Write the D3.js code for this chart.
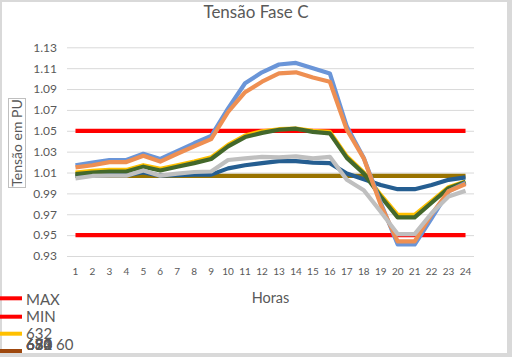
<!DOCTYPE html>
<html><head><meta charset="utf-8">
<script src="https://cdn.jsdelivr.net/npm/d3@7"></script>
<style>body{margin:0;background:#fff;}svg{display:block;font-family:Lato,"Open Sans",sans-serif;}</style>
</head><body><svg id="c" width="512" height="357"></svg>
<script>
const hours = d3.range(1, 25).map(String);
const yTicks = [0.93,0.95,0.97,0.99,1.01,1.03,1.05,1.07,1.09,1.11,1.13];
const maxLimit = hours.map(() => 1.05);
const minLimit = hours.map(() => 0.95);
const s632 = [1.0100,1.0115,1.0125,1.0125,1.0170,1.0135,1.0170,1.0205,1.0245,1.0365,1.0455,1.0495,1.0515,1.0520,1.0500,1.0490,1.0255,1.0100,0.9885,0.9695,0.9695,0.9825,0.9960,1.0015];
const s633 = [1.0170,1.0195,1.0220,1.0220,1.0280,1.0230,1.0305,1.0380,1.0450,1.0715,1.0955,1.1060,1.1135,1.1150,1.1100,1.1050,1.0540,1.0240,0.9810,0.9410,0.9410,0.9660,0.9920,1.0000];
const s634 = [1.0150,1.0170,1.0200,1.0200,1.0260,1.0205,1.0280,1.0350,1.0420,1.0680,1.0870,1.0970,1.1050,1.1060,1.1010,1.0970,1.0510,1.0236,0.9790,0.9440,0.9440,0.9700,0.9920,0.9990];
const s671 = [1.0044,1.0067,1.0070,1.0070,1.0120,1.0070,1.0090,1.0105,1.0110,1.0220,1.0235,1.0250,1.0245,1.0255,1.0235,1.0250,1.0030,0.9930,0.9725,0.9510,0.9510,0.9710,0.9870,0.9926];
const s680 = [1.0086,1.0100,1.0110,1.0110,1.0156,1.0120,1.0156,1.0190,1.0230,1.0350,1.0440,1.0480,1.0510,1.0520,1.0490,1.0475,1.0240,1.0090,0.9870,0.9670,0.9670,0.9810,0.9950,1.0010];
const s692 = [1.0070,1.0070,1.0075,1.0075,1.0100,1.0070,1.0075,1.0080,1.0080,1.0140,1.0170,1.0190,1.0210,1.0210,1.0195,1.0190,1.0090,1.0035,0.9980,0.9940,0.9940,0.9980,1.0030,1.0054];
const s650 = hours.map(() => 1.0067);

const series = [
  {name:"MAX", values:maxLimit, color:"#FF0000"},
  {name:"MIN", values:minLimit, color:"#FF0000"},
  {name:"632", values:s632, color:"#FFC000"},
  {name:"650 60", values:s650, color:"#997300"},
  {name:"692", values:s692, color:"#255E91"},
  {name:"680", values:s680, color:"#43682B"},
  {name:"633", values:s633, color:"#6A95D8"},
  {name:"634", values:s634, color:"#EE8F52"},
  {name:"671", values:s671, color:"#BFBFBF"}
];

const svg = d3.select("#c");
svg.append("rect").attr("width",512).attr("height",357).attr("fill","#d9d9d9");
svg.append("rect").attr("x",2).attr("y",2).attr("width",505).attr("height",351).attr("fill","#fff");

const L = 67, R = 474, T = 47.3, B = 256;
const x = d3.scaleBand().domain(hours).range([L, R]);
const y = d3.scaleLinear().domain([0.93, 1.13]).range([B, T]);

// title
svg.append("text").attr("x",256).attr("y",18).attr("text-anchor","middle")
  .attr("font-size",17).attr("fill","#595959").text("Tensão Fase C");

// grid
const yAxis = d3.axisLeft(y).tickValues(yTicks).tickFormat(d3.format(".2f")).tickSize(-(R-L)).tickPadding(10);
const gy = svg.append("g").attr("transform",`translate(${L},0)`).call(yAxis);
gy.select(".domain").remove();
gy.selectAll(".tick line").attr("stroke","#D9D9D9").attr("stroke-width",1);
gy.selectAll(".tick text").attr("fill","#595959").attr("font-size",12).attr("font-family","Lato");

const xAxis = d3.axisBottom(x).tickSize(0).tickPadding(12);
const gx = svg.append("g").attr("transform",`translate(0,${B})`).call(xAxis);
gx.select(".domain").remove();
gx.selectAll(".tick text").attr("fill","#595959").attr("font-size",10).attr("font-family","Lato");

// axis titles
svg.append("text").attr("x",270.5).attr("y",303).attr("text-anchor","middle")
  .attr("font-size",14.5).attr("fill","#595959").text("Horas");
svg.append("rect").attr("x",8.5).attr("y",98.5).attr("width",17).attr("height",89)
  .attr("fill","none").attr("stroke","#BFBFBF").attr("stroke-width",1);
svg.append("text").attr("transform","translate(21.5,143) rotate(-90)").attr("text-anchor","middle")
  .attr("font-size",14).attr("fill","#595959").text("Tensão em PU");

// lines
const line = d3.line().x((d,i) => x(hours[i]) + x.bandwidth()/2).y(d => y(d));
svg.append("g").selectAll("path").data(series).join("path")
  .attr("d", d => line(d.values)).attr("fill","none")
  .attr("stroke", d => d.color).attr("stroke-width",4.2)
  .attr("stroke-linejoin","round").attr("stroke-linecap","butt");

// legend
const legOrder = ["MAX","MIN","632","633","634","671","680","692","650 60"];
const swY = [298.3, 316.7, 333.7, 351];
const txY = [305, 321.7, 338.5, 349.5];
const lg = svg.append("g");
legOrder.forEach((n, i) => {
  const s = series.find(d => d.name === n);
  const k = Math.min(i, 3);
  lg.append("line").attr("x1",0).attr("x2",22).attr("y1",swY[k]).attr("y2",swY[k])
    .attr("stroke", i === legOrder.length-1 ? "#9E480E" : s.color).attr("stroke-width",4);
  lg.append("text").attr("x",26).attr("y",txY[k]).attr("font-size",15)
    .attr("fill","#595959").text(n);
});
</script></body></html>
